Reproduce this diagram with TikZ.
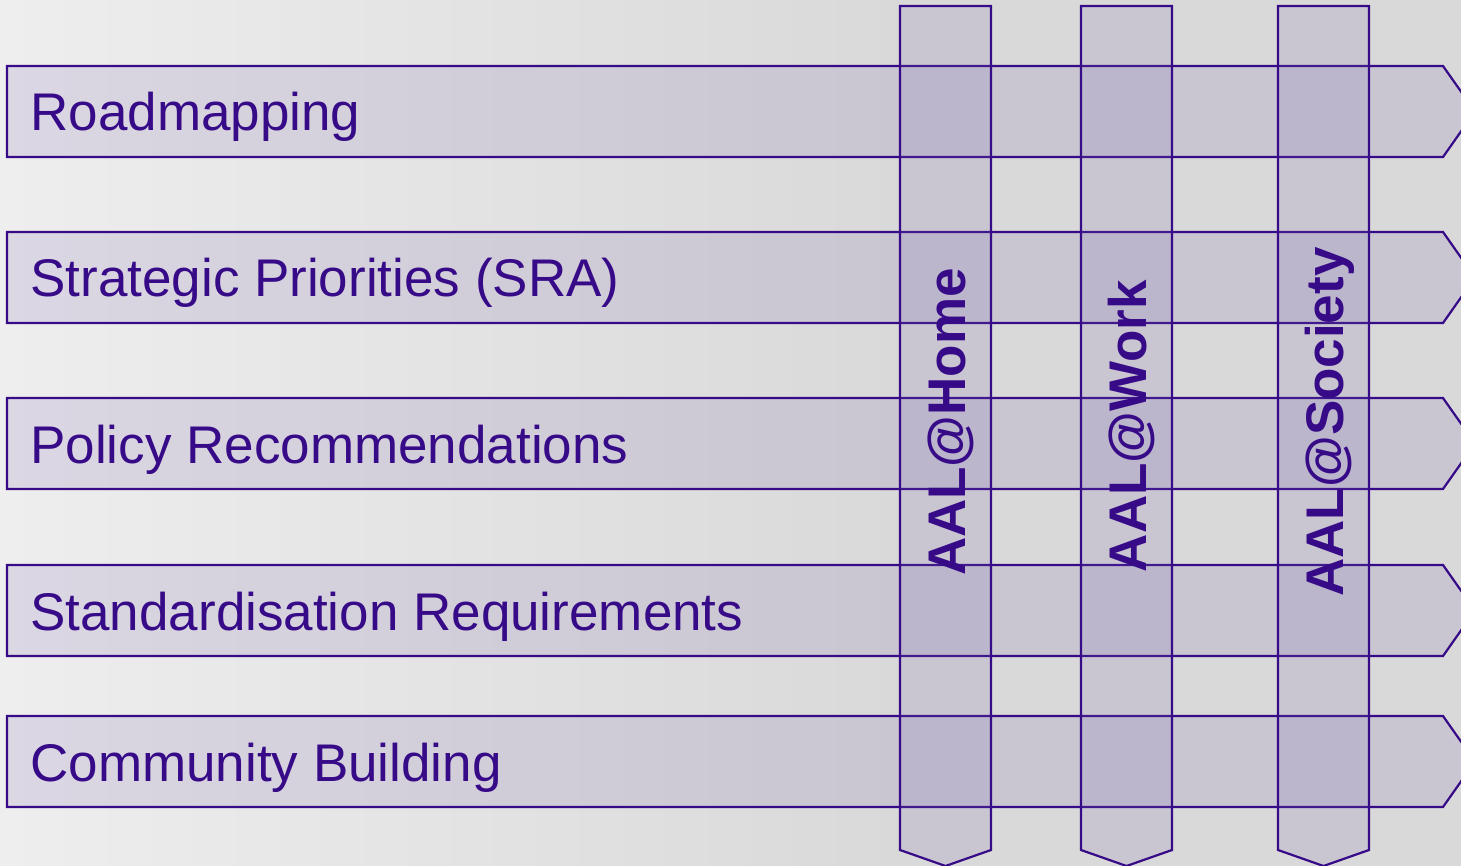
\documentclass[tikz,border=0pt]{standalone}
\usepackage{fontspec}
\setmainfont{Liberation Sans}
\usetikzlibrary{positioning}

\definecolor{aalpurple}{RGB}{55,10,135}
\definecolor{bandfill}{RGB}{120,100,175}
\definecolor{bggray}{RGB}{217,217,217}
\definecolor{bglight}{RGB}{238,238,238}

\begin{document}
\begin{tikzpicture}[
    x=0.5pt, y=-0.5pt,
    band/.style={draw=aalpurple, line width=1.1pt, fill=bandfill, fill opacity=0.16, line join=miter},
    rowlabel/.style={anchor=base west, inner sep=0pt, text=aalpurple, font=\fontsize{26.5}{30}\selectfont},
    collabel/.style={anchor=base, inner sep=0pt, rotate=90, text=aalpurple, font=\fontsize{26.5}{30}\selectfont\bfseries}
]

% Parameters for ease of adjustments
\newcommand{\BandW}{91}
\newcommand{\RowRight}{1443}
\newcommand{\ColBottom}{850}

% Page and background
\useasboundingbox (0,0) rectangle (1461,866);
\clip (0,0) rectangle (1461,866);
\shade[left color=bglight, right color=bggray] (0,0) rectangle (900,866);
\fill[bggray] (900,0) rectangle (1461,866);

% Horizontal bands with their labels
\foreach \top/\txt [count=\i] in {66/Roadmapping, 232/Strategic Priorities (SRA), 398/Policy Recommendations, 565/Standardisation Requirements, 716/Community Building}{
    \draw[band] (7,\top) -- (\RowRight,\top) -- (\RowRight+32,\top+\BandW/2) -- (\RowRight,\top+\BandW) -- (7,\top+\BandW) -- cycle;
    \node[rowlabel] (row-\i) at (30,\top+65) {\txt};
}

% Vertical bands with their labels
\foreach \left/\txt/\mid [count=\j] in {900/AAL@Home/422, 1081/AAL@Work/426, 1278/AAL@Society/422}{
    \draw[band] (\left,6) -- (\left+\BandW,6) -- (\left+\BandW,\ColBottom) -- (\left+\BandW/2,\ColBottom+16) -- (\left,\ColBottom) -- cycle;
    \node[collabel] (col-\j) at (\left+\BandW/2+20,\mid) {\txt};
}

\end{tikzpicture}
\end{document}
